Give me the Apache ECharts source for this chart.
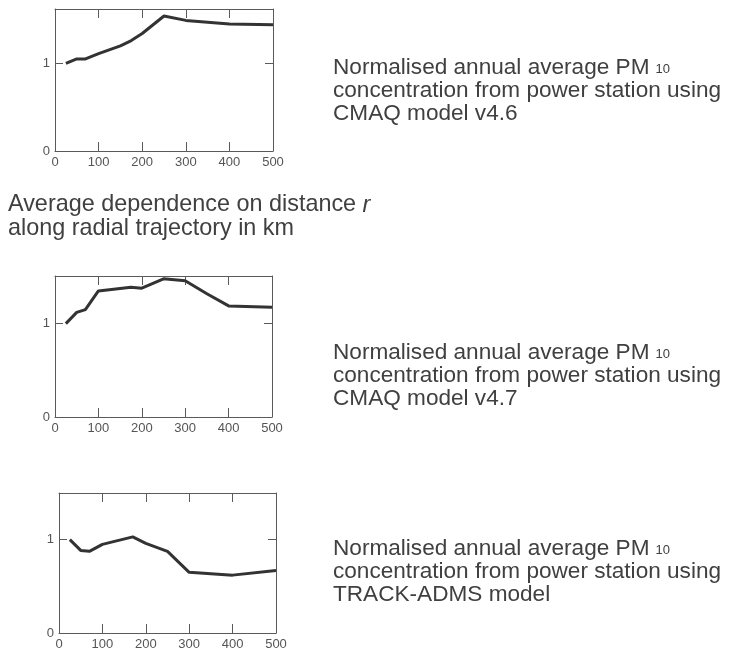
<!DOCTYPE html>
<html>
<head>
<meta charset="utf-8">
<script src="https://cdn.jsdelivr.net/npm/echarts@6/dist/echarts.min.js"></script>
<style>
html,body{margin:0;padding:0;background:#fff;}
#chart{width:729px;height:651px;}
</style>
</head>
<body>
<div id="chart"></div>
<script>
// ---- data ----
var dist1 = [25, 50, 70, 100, 150, 175, 200, 225, 250, 300, 400, 500];
var pm1   = [1.0, 1.05, 1.05, 1.11, 1.2, 1.26, 1.34, 1.44, 1.54, 1.49, 1.45, 1.44];

var dist2 = [25, 50, 70, 100, 175, 200, 250, 300, 350, 400, 500];
var pm2   = [1.0, 1.12, 1.15, 1.35, 1.39, 1.38, 1.48, 1.46, 1.32, 1.19, 1.175];

var dist3 = [25, 50, 70, 100, 170, 200, 250, 300, 400, 500];
var pm3   = [1.0, 0.885, 0.875, 0.95, 1.03, 0.96, 0.875, 0.65, 0.62, 0.67];

var xTickLabels = [0, 100, 200, 300, 400, 500];
var xInnerTicks = [100, 200, 300, 400];
var yTickLabels = [0, 1];
var yInnerTicks = [1];
var yMax = [1.62, 1.51, 1.5];

var caption1 = ['Normalised annual average PM', '10', 'concentration from power station using', 'CMAQ model v4.6'];
var caption2 = ['Normalised annual average PM', '10', 'concentration from power station using', 'CMAQ model v4.7'];
var caption3 = ['Normalised annual average PM', '10', 'concentration from power station using', 'TRACK-ADMS model'];
var midText = ['Average dependence on distance ', 'r', 'along radial trajectory in km'];

// ---- build ----
var FONT = '"Liberation Sans", Arial, Helvetica, sans-serif';
var AXC = '#5a5a5a';
var TXT = '#404040';
var grids = [
  {left: 55, top: 9, width: 218, height: 142},
  {left: 55, top: 276, width: 217, height: 141},
  {left: 59, top: 493, width: 217, height: 141}
];
function pairs(xs, ys){ return xs.map(function(x, i){ return [x, ys[i]]; }); }
var seriesData = [pairs(dist1, pm1), pairs(dist2, pm2), pairs(dist3, pm3)];

function axisLine(){ return {show: true, onZero: false, lineStyle: {color: AXC, width: 1}}; }

var xAxes = [], yAxes = [], series = [];
grids.forEach(function(g, i){
  xAxes.push({
    type: 'value', gridIndex: i, min: 0, max: 500, position: 'bottom',
    axisLine: axisLine(),
    axisTick: {show: true, inside: true, length: 9, customValues: xInnerTicks, lineStyle: {color: AXC}},
    axisLabel: {show: true, customValues: xTickLabels, margin: 5, fontSize: 13, color: '#555', fontFamily: FONT},
    splitLine: {show: false}
  });
  xAxes.push({
    type: 'value', gridIndex: i, min: 0, max: 500, position: 'top',
    axisLine: axisLine(),
    axisTick: {show: true, inside: true, length: 9, customValues: xInnerTicks, lineStyle: {color: AXC}},
    axisLabel: {show: false},
    splitLine: {show: false}
  });
  yAxes.push({
    type: 'value', gridIndex: i, min: 0, max: yMax[i], position: 'left',
    axisLine: axisLine(),
    axisTick: {show: true, inside: true, length: 8, customValues: yInnerTicks, lineStyle: {color: AXC}},
    axisLabel: {show: true, customValues: yTickLabels, margin: 5, fontSize: 13, color: '#555', fontFamily: FONT},
    splitLine: {show: false}
  });
  yAxes.push({
    type: 'value', gridIndex: i, min: 0, max: yMax[i], position: 'right',
    axisLine: axisLine(),
    axisTick: {show: true, inside: true, length: 8, customValues: yInnerTicks, lineStyle: {color: AXC}},
    axisLabel: {show: false},
    splitLine: {show: false}
  });
  series.push({
    type: 'line', xAxisIndex: i * 2, yAxisIndex: i * 2,
    data: seriesData[i], showSymbol: false, smooth: false,
    lineStyle: {color: '#333', width: 3}, z: 5, animation: false
  });
});

function captionText(c){
  return '{a|' + c[0] + '}{s|' + c[1] + '}\n{a|' + c[2] + '}\n{a|' + c[3] + '}';
}
var capRich = {
  a: {fontSize: 22.6, lineHeight: 23, fontFamily: FONT, fill: TXT, color: TXT},
  s: {fontSize: 13, lineHeight: 23, fontFamily: FONT, fill: TXT, color: TXT, padding: [2, 0, 0, 6]}
};
function capGraphic(c, x, y){
  return {type: 'text', left: x, top: y, style: {text: captionText(c), rich: capRich, font: '22.6px ' + FONT, fill: TXT}};
}

var option = {
  backgroundColor: '#fff',
  animation: false,
  grid: grids.map(function(g){ return {left: g.left, top: g.top, width: g.width, height: g.height, show: false}; }),
  xAxis: xAxes,
  yAxis: yAxes,
  series: series,
  graphic: [
    capGraphic(caption1, 333, 56.5),
    capGraphic(caption2, 333, 341.5),
    capGraphic(caption3, 333, 537.5),
    {type: 'text', left: 8, top: 193.5, style: {
      text: '{a|' + midText[0] + '}{i|' + midText[1] + '}\n{a|' + midText[2] + '}',
      rich: {
        a: {fontSize: 23.4, lineHeight: 23.5, fontFamily: FONT, fill: TXT, color: TXT},
        i: {fontSize: 23.4, lineHeight: 23.5, fontFamily: FONT, fontStyle: 'italic', fill: TXT, color: TXT}
      },
      font: '23.4px ' + FONT, fill: TXT
    }}
  ]
};
var chart = echarts.init(document.getElementById('chart'), null, {renderer: 'canvas'});
chart.setOption(option);
</script>
</body>
</html>
